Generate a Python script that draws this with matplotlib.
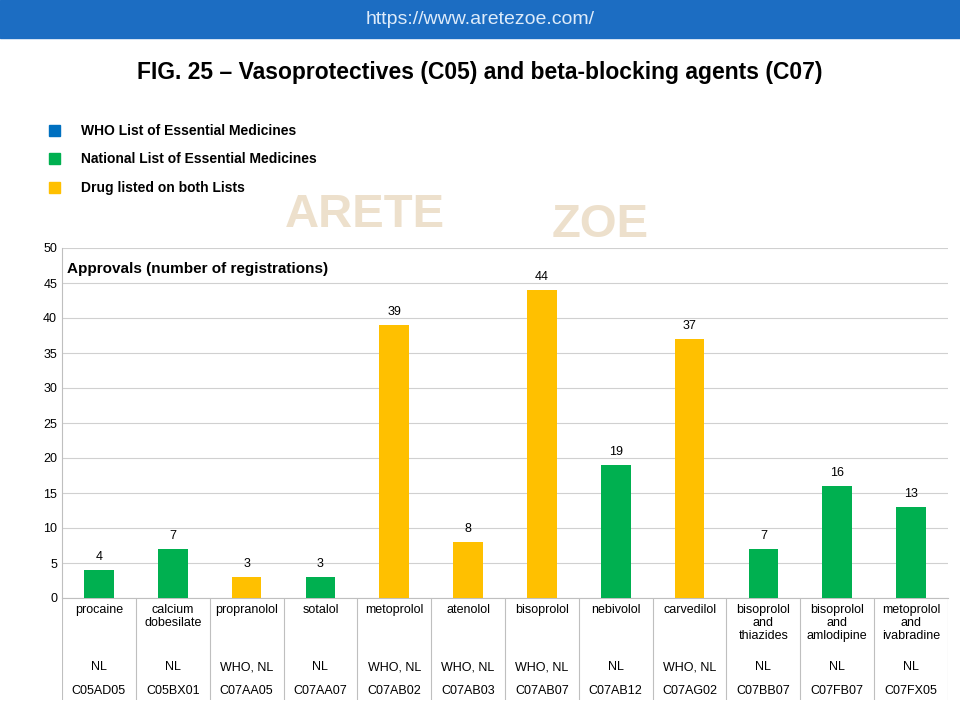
import matplotlib.pyplot as plt
from matplotlib.patches import Rectangle

plt.rcParams['font.family'] = ['Liberation Sans', 'DejaVu Sans']

drugs = ['procaine', 'calcium\ndobesilate', 'propranolol', 'sotalol', 'metoprolol', 'atenolol',
         'bisoprolol', 'nebivolol', 'carvedilol', 'bisoprolol\nand\nthiazides',
         'bisoprolol\nand\namlodipine', 'metoprolol\nand\nivabradine']
lists = ['NL', 'NL', 'WHO, NL', 'NL', 'WHO, NL', 'WHO, NL', 'WHO, NL', 'NL', 'WHO, NL', 'NL', 'NL', 'NL']
codes = ['C05AD05', 'C05BX01', 'C07AA05', 'C07AA07', 'C07AB02', 'C07AB03', 'C07AB07',
         'C07AB12', 'C07AG02', 'C07BB07', 'C07FB07', 'C07FX05']
approvals = [4, 7, 3, 3, 39, 8, 44, 19, 37, 7, 16, 13]

GREEN, YELLOW, BLUE = '#00B050', '#FFC000', '#0070C0'
colors = [YELLOW if 'WHO' in l else GREEN for l in lists]

fig = plt.figure(figsize=(9.6, 7.2), dpi=100)

# banner
fig.patches.append(Rectangle((0, 1 - 38 / 720), 1, 38 / 720, transform=fig.transFigure,
                             color='#1C6DC2', zorder=0))
fig.text(0.5, 1 - 19 / 720, 'https://www.aretezoe.com/', color='#DDEBFA', fontsize=14,
         ha='center', va='center')
fig.text(0.5, 1 - 72 / 720, 'FIG. 25 \u2013 Vasoprotectives (C05) and beta-blocking agents (C07)',
         fontsize=16.5, fontweight='bold', ha='center', va='center')

# watermark
fig.text(0.38, 1 - 215 / 720, 'ARETE', fontsize=34, fontweight='bold', color='#E9D9C0',
         ha='center', va='center', alpha=0.8)
fig.text(0.625, 1 - 225 / 720, 'ZOE', fontsize=34, fontweight='bold', color='#E9D9C0',
         ha='center', va='center', alpha=0.8)

# legend
for y, c, t in [(130, BLUE, 'WHO List of Essential Medicines'),
                (158, GREEN, 'National List of Essential Medicines'),
                (187, YELLOW, 'Drug listed on both Lists')]:
    fig.patches.append(Rectangle((49 / 960, 1 - (y + 6) / 720), 11 / 960, 11 / 720,
                                 transform=fig.transFigure, color=c))
    fig.text(81 / 960, 1 - (y + 1) / 720, t, fontsize=10, fontweight='bold', va='center')

left, right, top, bottom = 62 / 960, 948 / 960, 1 - 248 / 720, 1 - 598 / 720
ax = fig.add_axes([left, bottom, right - left, top - bottom])
n = len(drugs)
x = list(range(n))
ax.bar(x, approvals, width=0.4, color=colors, zorder=3)
for xi, v in zip(x, approvals):
    ax.text(xi, v + 1, str(v), ha='center', va='bottom', fontsize=9)
ax.set_xlim(-0.5, n - 0.5)
ax.set_ylim(0, 50)
ax.set_yticks(range(0, 51, 5))
ax.tick_params(axis='y', labelsize=9, length=0)
ax.set_xticks([])
ax.grid(axis='y', color='#D0D0D0', lw=0.8, zorder=0)
for s in ['top', 'right']:
    ax.spines[s].set_visible(False)
ax.spines['left'].set_color('#BFBFBF')
ax.spines['bottom'].set_color('#BFBFBF')
ax.set_facecolor('none')
ax.text(0.006, 0.94, 'Approvals (number of registrations)', transform=ax.transAxes,
        fontsize=11, fontweight='bold', va='center')

# category table
tab = fig.add_axes([left, 1 - 700 / 720, right - left, (700 - 598) / 720])
tab.set_xlim(-0.5, n - 0.5)
tab.set_ylim(700, 598)
tab.axis('off')
for i in range(n + 1):
    tab.plot([i - 0.5, i - 0.5], [598, 700], color='#BFBFBF', lw=0.8)
for i in range(n):
    tab.text(i, 604, drugs[i], ha='center', va='top', fontsize=9, linespacing=1.1)
    tab.text(i, 667, lists[i], ha='center', va='center', fontsize=9)
    tab.text(i, 691, codes[i], ha='center', va='center', fontsize=9)

fig.savefig('out.png', dpi=100)
